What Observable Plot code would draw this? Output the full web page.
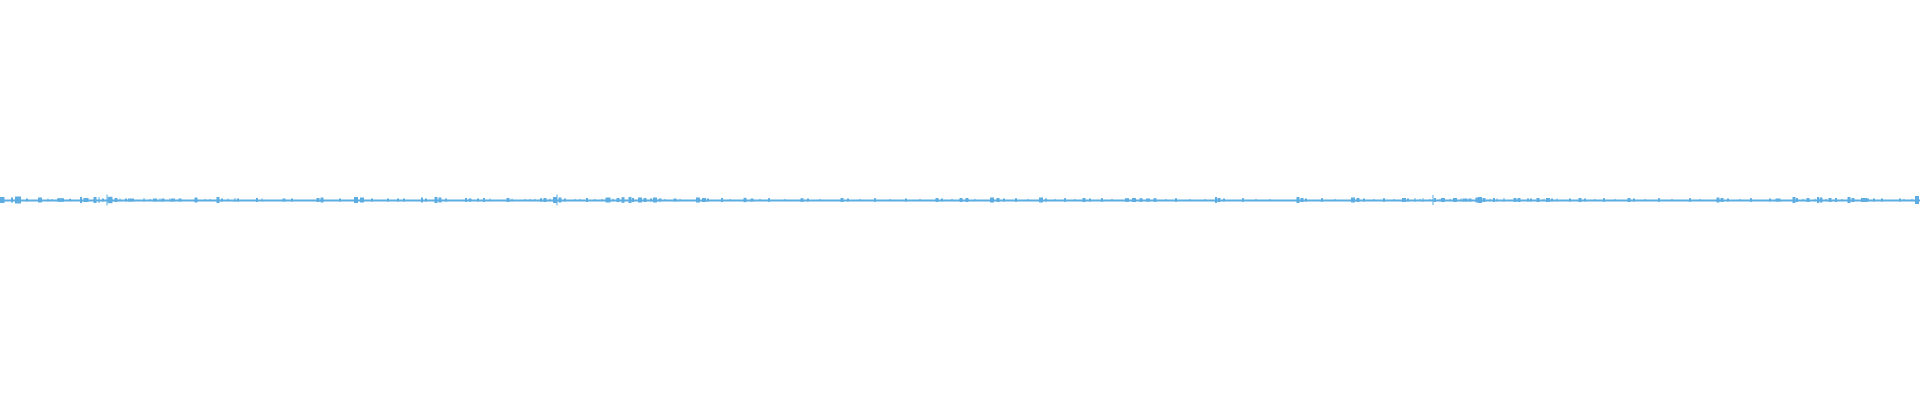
<!DOCTYPE html>
<html>
<head>
<meta charset="utf-8">
<script src="https://cdn.jsdelivr.net/npm/d3@7"></script>
<script src="https://cdn.jsdelivr.net/npm/@observablehq/plot@0.6"></script>
<style>
  html, body { margin: 0; padding: 0; background: #ffffff; }
  #chart { width: 1920px; height: 400px; }
</style>
</head>
<body>
<div id="chart"></div>
<script>
// Time axis span (ms) and waveform colour
const timeSpan = [0, 1920];
const ampSpan = [-200, 200];
const waveColor = "#5DADE2";

// Waveform bursts: centre time, duration, peak amplitude
const bumpAt = [
  2,12,18,27,40,48,52,58,61,70,81,86,95,99,103,107,110,116,120,126,131,144,150,155,160,163,170,173,180,196,205,210,218,222,228,235,238,
  257,262,284,292,318,322,340,356,362,372,388,398,404,422,426,436,440,446,466,470,478,484,490,508,512,
  525,530,535,541,545,550,555,557,560,565,575,580,587,595,602,608,613,618,623,630,633,640,645,651,655,660,665,675,680,
  698,704,708,722,730,745,752,760,769,785,802,808,820,842,848,860,875,890,906,920,937,942,952,961,967,975,992,998,1004,1016,1028,1041,1046,1055,1065,1075,1084,1090,1102,1112,1127,1134,1141,1148,1155,1166,1176,1190,1205,1216,1219,1224,1243,1256,1270,1298,1302,1306,1322,1335,1353,1358,1364,1374,1384,1394,
  1404,1408,1415,1420,1423,1430,1433,1435,1440,1443,1450,1455,1461,1465,1470,1477,1480,1484,1490,1494,1497,1504,1515,1519,1528,1531,1538,1544,1548,1552,1557,
  1570,1580,1585,1595,1604,1615,1629,1634,1645,1659,1672,1690,1700,1718,1722,1728,1740,1751,
  1770,1778,1794,1797,1803,1808,1815,1818,1821,1826,1830,1836,1842,1849,1853,1864,1868,1874,1882,1900,1904,1912,1917
];
const bumpWidth = [
  5,2,6,2,4,1,1,2,6,2,2,5,3,1,2,1,5,3,1,2,6,1,1,4,1,3,1,4,3,3,1,1,3,2,1,1,2,
  2,1,3,2,3,3,2,4,4,2,2,2,2,2,2,3,3,2,2,3,2,2,1,3,1,
  1,1,1,2,3,1,4,1,3,2,1,1,2,1,1,5,1,3,3,3,2,4,3,2,4,3,1,3,1,
  4,4,2,2,1,3,3,1,2,1,3,2,1,3,2,1,2,1,2,1,3,2,1,3,3,1,4,3,2,2,1,4,2,1,2,1,3,2,2,1,4,4,3,4,3,1,2,1,1,2,3,2,2,1,1,3,3,2,2,1,4,3,2,1,2,1,
  4,2,1,1,1,1,1,2,1,4,1,4,1,5,3,3,4,3,1,2,1,1,3,3,2,2,3,1,4,2,1,
  2,3,2,1,2,1,3,2,1,2,1,2,1,3,3,2,1,2,
  2,5,3,2,1,3,1,2,3,1,3,2,1,3,3,6,2,2,2,2,1,1,4
];
const bumpAmp = [
  3,2.5,3.5,1.5,2.5,1.5,1,1.5,1.8,1.2,3,2,3,3,1.5,5.5,3.2,2,1.5,1.5,1.5,2,1,1.5,1.5,1.5,1.5,1.5,1.5,2.5,1.2,1.2,3,1.5,1.5,2,1.5,
  2,1.5,1.5,1.5,2,2.5,1.5,3,2.5,1.5,1.5,1.5,1.5,2.5,1.5,3,2.5,1.5,2,1.5,1.5,2,1.5,2,1.5,
  1.2,1.2,1.2,1.8,2,1.5,3,5.5,2.5,1.5,1.2,1.2,2,1.2,1.2,2.5,1.5,2,2.8,3,2,2.5,2,1.5,2.5,1.5,1.2,1.5,1.2,
  2.5,2,1.5,2,1.2,2.2,1.5,1.2,1.8,1.2,1.8,1.5,1.2,2,1.5,1.2,1.8,1.2,1.5,1.2,2,1.5,1.2,2,2,1.2,2.5,2,1.5,1.8,1.2,2.5,1.5,1.2,1.8,1.2,2,1.5,1.8,1.2,1.8,2,1.8,1.5,1.8,1.2,1.8,1.2,1.2,3,2,1.5,1.8,1.2,1.2,3,2,1.5,1.8,1.2,2.5,2,1.5,1.2,1.8,1.2,
  2,1.5,2,1.2,1.8,1.2,5,2,1.2,2,1.2,2,1.5,1.5,1.5,2.5,3,2,1.2,2,1.5,2,2,2,1.5,1.5,2,1.2,2,1.5,1.5,
  1.5,2,1.5,1.2,1.8,1.2,2,1.5,1.2,1.8,1.2,1.8,1.2,2.5,2,1.5,1.2,1.8,
  1.5,1.5,3,2,1.2,2,1.2,3,2.5,1.2,2,2,1.2,3,2,2,1.5,1.5,1.5,1.5,1.2,1.2,4
];

const chart = Plot.plot({
  width: 1920,
  height: 400,
  margin: 0,
  x: { domain: timeSpan, axis: null },
  y: { domain: ampSpan, axis: null },
  marks: [
    Plot.ruleY([0], { stroke: waveColor, strokeWidth: 2 }),
    Plot.rect(bumpAt, {
      x1: (d, i) => bumpAt[i] - bumpWidth[i] / 2,
      x2: (d, i) => bumpAt[i] + bumpWidth[i] / 2,
      y1: (d, i) => -bumpAmp[i],
      y2: (d, i) => bumpAmp[i],
      fill: waveColor
    })
  ]
});
document.getElementById("chart").appendChild(chart);
</script>
</body>
</html>
